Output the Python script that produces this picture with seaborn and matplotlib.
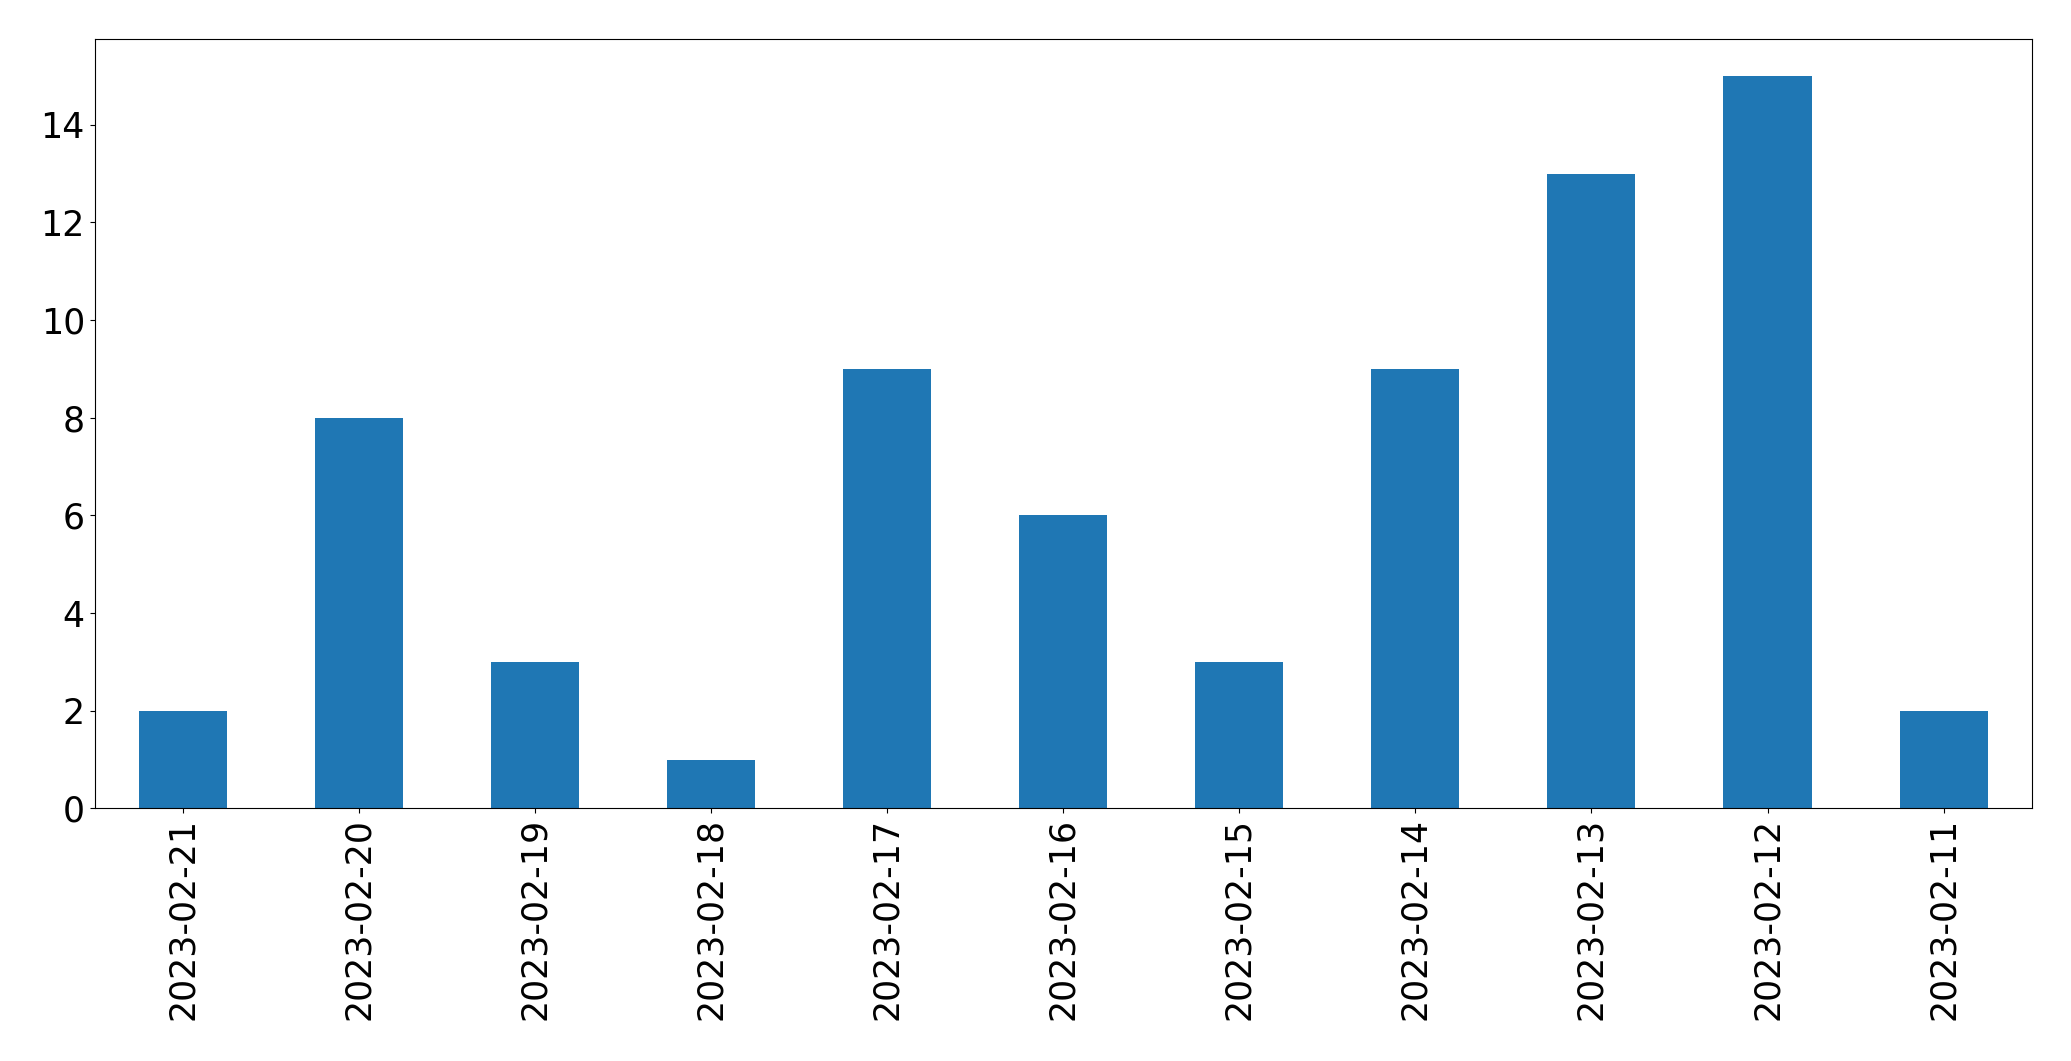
import matplotlib
matplotlib.use("Agg")
import matplotlib.pyplot as plt
import seaborn as sns
import pandas as pd

# ── Data ───────────────────────────────────────────────────────────────────
dates = ["2023-02-21", "2023-02-20", "2023-02-19", "2023-02-18",
         "2023-02-17", "2023-02-16", "2023-02-15", "2023-02-14",
         "2023-02-13", "2023-02-12", "2023-02-11"]
counts = [2, 8, 3, 1, 9, 6, 3, 9, 13, 15, 2]

df = pd.DataFrame({"date": dates, "count": counts})

sns.set_style("ticks")
plt.rcParams["font.family"] = ["DejaVu Sans"]

fig, ax = plt.subplots(figsize=(20.71, 10.61), dpi=100)
sns.barplot(data=df, x="date", y="count", order=dates, color="#1f77b4",
            saturation=1, width=0.5, linewidth=0, ax=ax)
ax.set_xlim(-0.5, len(dates) - 0.5)
ax.set_ylim(0, 15.75)
ax.set_xlabel("")
ax.set_ylabel("")
ax.tick_params(axis="both", labelsize=25, length=3.5, width=0.8,
               colors="black", labelcolor="black")
ax.tick_params(axis="x", rotation=90)
for s in ax.spines.values():
    s.set_visible(True)
    s.set_color("black")
    s.set_linewidth(0.8)

plt.subplots_adjust(left=0.0457, right=0.981, top=0.963, bottom=0.238)
plt.savefig("out.png", dpi=100)
plt.close()
